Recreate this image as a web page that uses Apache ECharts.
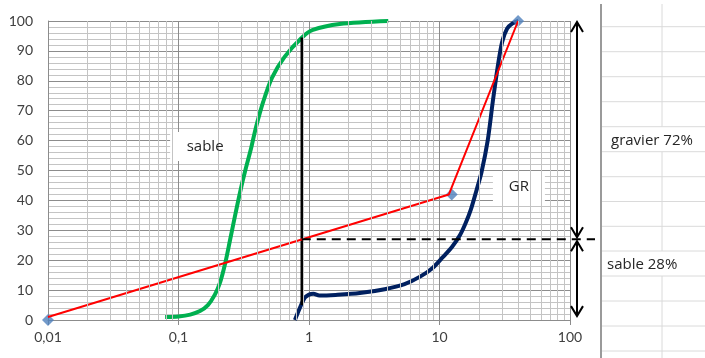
<!DOCTYPE html>
<html>
<head>
<meta charset="utf-8">
<script src="https://cdn.jsdelivr.net/npm/echarts@6/dist/echarts.min.js"></script>
<style>
  html, body { margin: 0; padding: 0; background: #fff; }
  #chart { width: 705px; height: 358px; }
</style>
</head>
<body>
<div id="chart"></div>
<script>
// courbe granulométrique : sable + gravier
const xTicks = [0.01, 0.1, 1, 10, 100];
const yTicks = [0, 10, 20, 30, 40, 50, 60, 70, 80, 90, 100];

const sableX = [0.079, 0.1, 0.123, 0.146, 0.168, 0.19, 0.208, 0.228, 0.249, 0.273, 0.299, 0.327, 0.358, 0.39, 0.446, 0.52, 0.65, 0.88, 1.07, 1.72, 4.05];
const sableY = [1, 1.2, 1.8, 3, 5, 8.5, 12.5, 19, 27, 35.5, 43.5, 50.5, 57, 64, 73, 81, 88, 94.4, 97, 99, 100];

const grX = [0.78, 0.87, 0.93, 1, 1.08, 1.2, 1.6, 2.45, 3.8, 5.4, 7.1, 8.9, 10.6, 12.5, 14.4, 15.9, 17.4, 19.1, 21, 23.4, 25.6, 28, 30.2, 33, 36.3, 40.2];
const grY = [0, 5, 7.5, 8.5, 8.8, 8.2, 8.4, 9, 10.3, 12, 14.5, 17.5, 21, 24.5, 28.5, 32.5, 37, 43, 49.5, 60, 73, 85, 93, 97.5, 99.2, 100];

const melangeX = [0.01, 11.8, 40];
const melangeY = [1, 42, 100];

const pointsX = [0.01, 12.4, 40];
const pointsY = [0, 42, 100];

const coupureX = 0.88;       // ligne verticale noire
const coupureY = [5, 94.5];
const partSable = 27;        // ligne pointillée
const labelSable = 'sable 28%';
const labelGravier = 'gravier 72%';

const pairs = (xs, ys) => xs.map((x, i) => [x, ys[i]]);

// lignes mineures du quadrillage log : 2..9 dans chaque décade
const minorX = [];
[0.01, 0.1, 1, 10].forEach(d => {
    for (let k = 2; k <= 9; k++) minorX.push(+(d * k).toPrecision(3));
});

const FONT = 'Lato';
const TEXT_FONT = '"Open Sans"';
const chart = echarts.init(document.getElementById('chart'));

chart.setOption({
    animation: false,
    grid: { left: 48, right: 135, top: 21, bottom: 38 },
    xAxis: {
        type: 'log', logBase: 10, min: 0.01, max: 100,
        axisLine: { show: true, lineStyle: { color: '#8c8c8c' } },
        axisTick: { show: true, length: 5, lineStyle: { color: '#8c8c8c' } },
        splitLine: { show: true, lineStyle: { color: '#8c8c8c', width: 1 } },
        axisLabel: {
            color: '#404040', fontFamily: FONT, fontSize: 14, margin: 10,
            formatter: v => String(v).replace('.', ',')
        }
    },
    yAxis: {
        type: 'value', min: 0, max: 100, interval: 10,
        axisLine: { show: true, lineStyle: { color: '#8c8c8c' } },
        axisTick: { show: false },
        splitLine: { show: true, lineStyle: { color: '#8c8c8c', width: 1 } },
        minorTick: { show: false, splitNumber: 5 },
        minorSplitLine: { show: true, lineStyle: { color: '#c4c4c4', width: 1 } },
        axisLabel: { color: '#404040', fontFamily: FONT, fontSize: 14, margin: 15 }
    },
    series: [
        {
            name: 'grille', type: 'line', z: 0, data: [], silent: true,
            markLine: {
                silent: true, symbol: 'none', animation: false,
                label: { show: false },
                lineStyle: { color: '#c4c4c4', width: 1, type: 'solid' },
                data: minorX.map(v => ({ xAxis: v }))
            }
        },
        {
            name: 'sable', type: 'line', z: 3, smooth: 0.3, showSymbol: false,
            lineStyle: { color: '#00b050', width: 4 },
            data: pairs(sableX, sableY)
        },
        {
            name: 'GR', type: 'line', z: 3, smooth: 0.3, showSymbol: false,
            lineStyle: { color: '#002060', width: 4 },
            data: pairs(grX, grY)
        },
        {
            name: 'coupure', type: 'line', z: 3, showSymbol: false,
            lineStyle: { color: '#000', width: 2.5 },
            data: coupureY.map(y => [coupureX, y])
        },
        {
            name: 'points', type: 'scatter', z: 3, symbol: 'diamond', symbolSize: 12,
            itemStyle: { color: '#4f81bd' },
            data: pairs(pointsX, pointsY)
        },
        {
            name: 'melange', type: 'line', z: 4, showSymbol: false,
            lineStyle: { color: '#ff0000', width: 2 },
            data: pairs(melangeX, melangeY)
        }
    ]
});

// annotations : boîtes de texte, flèches, feuille Excel à droite
function drawAnnotations() {
    const px = (x, y) => chart.convertToPixel({ gridIndex: 0 }, [x, y]);
    const g = [];

    // cellules de la feuille
    const sheetLeft = 601, sheetMid = 662;
    const rows = [26.7, 51.7, 76.7, 101.7, 126.7, 151.7, 176.7, 201.5, 226.3, 251, 276, 301, 326, 351];
    const textRows = [126.7, 251];
    rows.forEach(r => g.push({
        type: 'line', silent: true, z: 0,
        shape: { x1: sheetLeft, y1: r, x2: 705, y2: r },
        style: { stroke: '#dadada', lineWidth: 1 }
    }));
    let prev = 4;
    textRows.forEach(r => {
        g.push({ type: 'line', silent: true, z: 0,
            shape: { x1: sheetMid, y1: prev, x2: sheetMid, y2: r },
            style: { stroke: '#dadada', lineWidth: 1 } });
        prev = r + 25;
    });
    g.push({ type: 'line', silent: true, z: 0,
        shape: { x1: sheetMid, y1: prev, x2: sheetMid, y2: 358 },
        style: { stroke: '#dadada', lineWidth: 1 } });
    g.push({ type: 'line', silent: true, z: 0,
        shape: { x1: sheetLeft, y1: 4, x2: sheetLeft, y2: 358 },
        style: { stroke: '#9a9a9a', lineWidth: 2 } });
    g.push({ type: 'text', silent: true, z: 5,
        style: { text: labelGravier, x: 611, y: 141, textVerticalAlign: 'middle',
                 fill: '#262626', font: '15px ' + TEXT_FONT } });
    g.push({ type: 'text', silent: true, z: 5,
        style: { text: labelSable, x: 607, y: 265, textVerticalAlign: 'middle',
                 fill: '#262626', font: '15px ' + TEXT_FONT } });

    // étiquettes dans le graphique
    const boxes = [
        { text: 'sable', at: [0.16, 58], w: 70, h: 29 },
        { text: 'GR', at: [40.6, 44.5], w: 52, h: 29 }
    ];
    boxes.forEach(b => {
        const p = px(b.at[0], b.at[1]);
        g.push({ type: 'rect', silent: true, z: 1,
            shape: { x: p[0] - b.w / 2, y: p[1] - b.h / 2, width: b.w, height: b.h },
            style: { fill: '#fff' } });
        g.push({ type: 'text', silent: true, z: 5,
            style: { text: b.text, x: p[0], y: p[1], textAlign: 'center', textVerticalAlign: 'middle',
                     fill: '#262626', font: '15px ' + TEXT_FONT } });
    });

    // ligne pointillée de coupure
    const c = px(coupureX, partSable);
    const right = px(100, 0)[0];
    g.push({ type: 'line', silent: true, z: 5,
        shape: { x1: c[0], y1: c[1], x2: right + 25, y2: c[1] },
        style: { stroke: '#000', lineWidth: 2, lineDash: [9, 6] } });

    // flèches doubles
    const ax = right + 7;
    const yTop = px(100, 100)[1] + 1;
    const yCut = c[1];
    const yBot = px(100, 1.3)[1];
    function arrow(y1, y2) {
        g.push({ type: 'line', silent: true, z: 5,
            shape: { x1: ax, y1: y1, x2: ax, y2: y2 },
            style: { stroke: '#000', lineWidth: 2 } });
        [[y1, 1], [y2, -1]].forEach(([y, d]) => g.push({
            type: 'polyline', silent: true, z: 5,
            shape: { points: [[ax - 6, y + 10 * d], [ax, y], [ax + 6, y + 10 * d]] },
            style: { stroke: '#000', lineWidth: 2, fill: 'none' }
        }));
    }
    arrow(yTop, yCut - 2);
    arrow(yCut + 2, yBot);

    chart.setOption({ graphic: g });
}

drawAnnotations();
</script>
</body>
</html>
